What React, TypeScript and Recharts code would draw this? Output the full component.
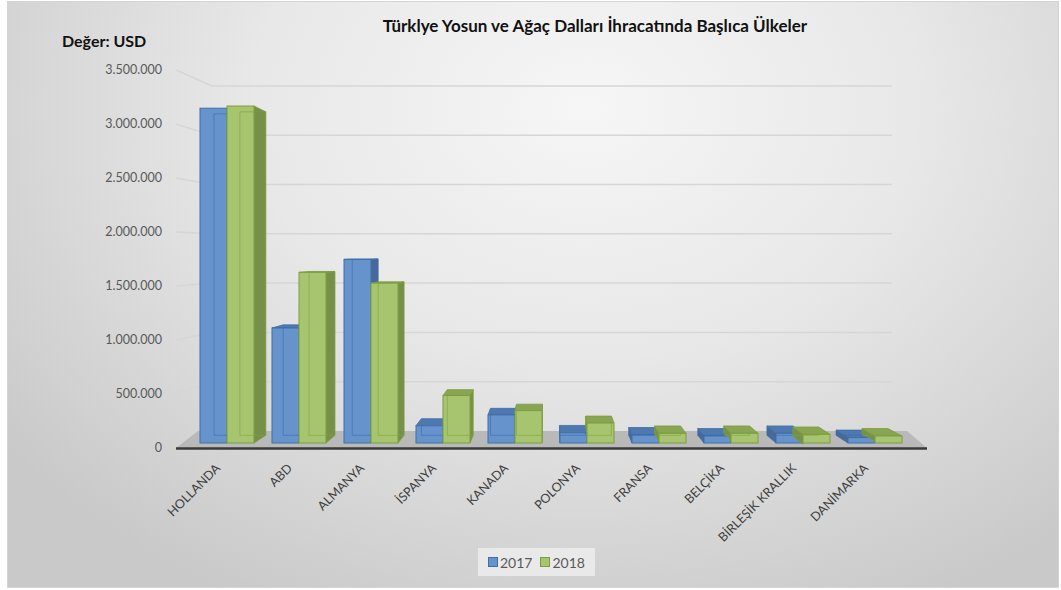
import React from 'react';
import { BarChart, Bar, XAxis, YAxis, CartesianGrid } from 'recharts';

const categories = [
  'HOLLANDA', 'ABD', 'ALMANYA', 'İSPANYA', 'KANADA',
  'POLONYA', 'FRANSA', 'BELÇİKA', 'BİRLEŞİK KRALLIK', 'DANİMARKA',
];
const values2017 = [3100000, 1065000, 1700000, 160000, 260000, 95000, 75000, 65000, 90000, 50000];
const values2018 = [3120000, 1580000, 1480000, 440000, 300000, 185000, 90000, 90000, 80000, 65000];
const yTicks = [0, 500000, 1000000, 1500000, 2000000, 2500000, 3000000, 3500000];
const seriesNames = ['2017', '2018'];
const title = 'Türklye Yosun ve Ağaç Dalları İhracatında Başlıca Ülkeler';
const unitLabel = 'Değer: USD';

const data = categories.map((name, i) => ({ name, y2017: values2017[i], y2018: values2018[i] }));

const FONT = 'Lato, "Open Sans", sans-serif';

// perspective for the fake 3d look
const VX = 550;
const VY = 250;
const S = 0.96;
const LIFT = 5;

const BLUE = { front: '#6693cc', stroke: '#3f6ea6', side: '#46699a', top: '#4f78b0', edge: '#3e6aa3' };
const GREEN = { front: '#a7c56f', stroke: '#7c9d3e', side: '#76904a', top: '#88a553', edge: '#7f9f45' };

const fmt = (v: number) => v.toString().replace(/\B(?=(\d{3})+(?!\d))/g, '.');

const proj = (px: number, py: number) => [VX + (px - VX) * S, VY + (py - VY) * S];
const pts = (arr: number[][]) => arr.map(p => p.join(',')).join(' ');

function Box3D(props: any) {
  const { x, y, width, height, c, cutRatio } = props;
  if (!height || height <= 0) return null;
  const xl = x, xr = x + width, yt = y - LIFT, yb = y + height - LIFT;
  const tl = proj(xl, yt), tr = proj(xr, yt), bl = proj(xl, yb), br = proj(xr, yb);
  const cx = (xl + xr) / 2;
  const left = cx < VX;

  let side = null;
  if (left) {
    side = <polygon points={pts([[xr, yt], tr, br, [xr, yb]])} fill={c.side} stroke={c.stroke} strokeWidth={0.8} />;
  } else {
    let cut = yb;
    if (cutRatio !== undefined) cut = yb - height * cutRatio;
    if (cut > yt) {
      side = <polygon points={pts([[xl, yt], tl, proj(xl, cut), [xl, cut]])} fill={c.side} stroke={c.stroke} strokeWidth={0.8} />;
    }
  }
  const top = yt > VY
    ? <polygon points={pts([[xl, yt], [xr, yt], tr, tl])} fill={c.top} stroke={c.stroke} strokeWidth={0.8} />
    : null;
  const backV = left ? [tl, bl] : [tr, br];

  return (
    <g>
      {side}
      {top}
      <rect x={xl} y={yt} width={width} height={height} fill={c.front} stroke={c.stroke} strokeWidth={1} />
      <line x1={backV[0][0]} y1={Math.max(backV[0][1], yt)} x2={backV[1][0]} y2={backV[1][1]} stroke={c.edge} strokeOpacity={0.6} />
      <line x1={bl[0]} y1={bl[1]} x2={br[0]} y2={br[1]} stroke={c.edge} strokeOpacity={0.6} />
      {yt < VY && <line x1={tl[0]} y1={tl[1]} x2={tr[0]} y2={tr[1]} stroke={c.edge} strokeOpacity={0.6} />}
    </g>
  );
}

const gridLine = (p: any) => {
  const y = p.y1;
  if (y > 440) {
    return (
      <g key={p.key}>
        <polygon points="176,448 198,431 907,431 927,448" fill="#b9b9b9" />
        <line x1={176} y1={448.5} x2={927} y2={448.5} stroke="#3a3a3a" strokeWidth={2.5} />
      </g>
    );
  }
  const yb = 431 - (448 - y) * 0.913;
  return (
    <path key={p.key} d={`M176,${y} L212,${yb} L892,${yb}`} fill="none" stroke="#d6d6d6" strokeWidth={1.5} />
  );
};

const CatTick = (props: any) => {
  const { x, y, payload } = props;
  const tx = x - 6;
  const ty = y + 21;
  return (
    <text x={tx} y={ty} transform={`rotate(-45, ${tx}, ${ty})`} textAnchor="end" fontSize={12.5} fill="#404040" fontFamily={FONT}>
      {payload.value}
    </text>
  );
};

export default function App() {
  return (
    <div style={{ position: 'absolute', left: 0, top: 0, width: 1061, height: 590, background: '#fff' }}>
      <div
        style={{
          position: 'absolute', left: 7, top: 1, width: 1050, height: 585,
          border: '1px solid #d4d4d4',
          background: 'radial-gradient(ellipse 70% 95% at 55% 18%, #f6f6f6 0%, #e8e8e8 45%, #c9c9c9 100%)',
        }}
      />
      <div style={{ position: 'absolute', left: 0, top: 15, width: 1190, textAlign: 'center', fontFamily: FONT, fontWeight: 700, fontSize: 17, color: '#111' }}>
        {title}
      </div>
      <div style={{ position: 'absolute', left: 62, top: 31, fontFamily: FONT, fontWeight: 700, fontSize: 16, color: '#111' }}>
        {unitLabel}
      </div>
      <BarChart
        width={1061}
        height={590}
        data={data}
        margin={{ top: 70, right: 150, left: 131, bottom: 82 }}
        barGap={0}
        barSize={27}
        style={{ position: 'absolute', left: 0, top: 0 }}
      >
        <CartesianGrid vertical={false} horizontal={gridLine} />
        <XAxis dataKey="name" axisLine={false} tickLine={false} tickSize={0} tickMargin={0} height={60} interval={0} tick={<CatTick />} />
        <YAxis
          width={60}
          domain={[0, 3500000]}
          ticks={yTicks}
          axisLine={false}
          tickLine={false}
          tickSize={0}
          tickMargin={29}
          tickFormatter={fmt}
          tick={{ fontSize: 12.5, fill: '#595959', fontFamily: FONT }}
        />
        <Bar dataKey="y2017" name={seriesNames[0]} fill={BLUE.front} isAnimationActive={false}
          shape={(p: any) => <Box3D {...p} c={BLUE} />} />
        <Bar dataKey="y2018" name={seriesNames[1]} fill={GREEN.front} isAnimationActive={false}
          shape={(p: any) => <Box3D {...p} c={GREEN} cutRatio={1 - p.payload.y2017 / p.payload.y2018} />} />
      </BarChart>
      <div
        style={{
          position: 'absolute', left: 478, top: 548, width: 117, height: 28,
          background: 'rgba(240,240,240,0.75)', display: 'flex', alignItems: 'center',
          fontFamily: FONT, fontSize: 14, color: '#595959',
        }}
      >
        {seriesNames.map((s, i) => (
          <span key={s} style={{ display: 'flex', alignItems: 'center', marginLeft: i === 0 ? 10 : 8 }}>
            <span style={{ width: 8, height: 8, background: i === 0 ? BLUE.front : GREEN.front, border: `1px solid ${i === 0 ? BLUE.stroke : GREEN.stroke}`, marginRight: 2 }} />
            {s}
          </span>
        ))}
      </div>
    </div>
  );
}
